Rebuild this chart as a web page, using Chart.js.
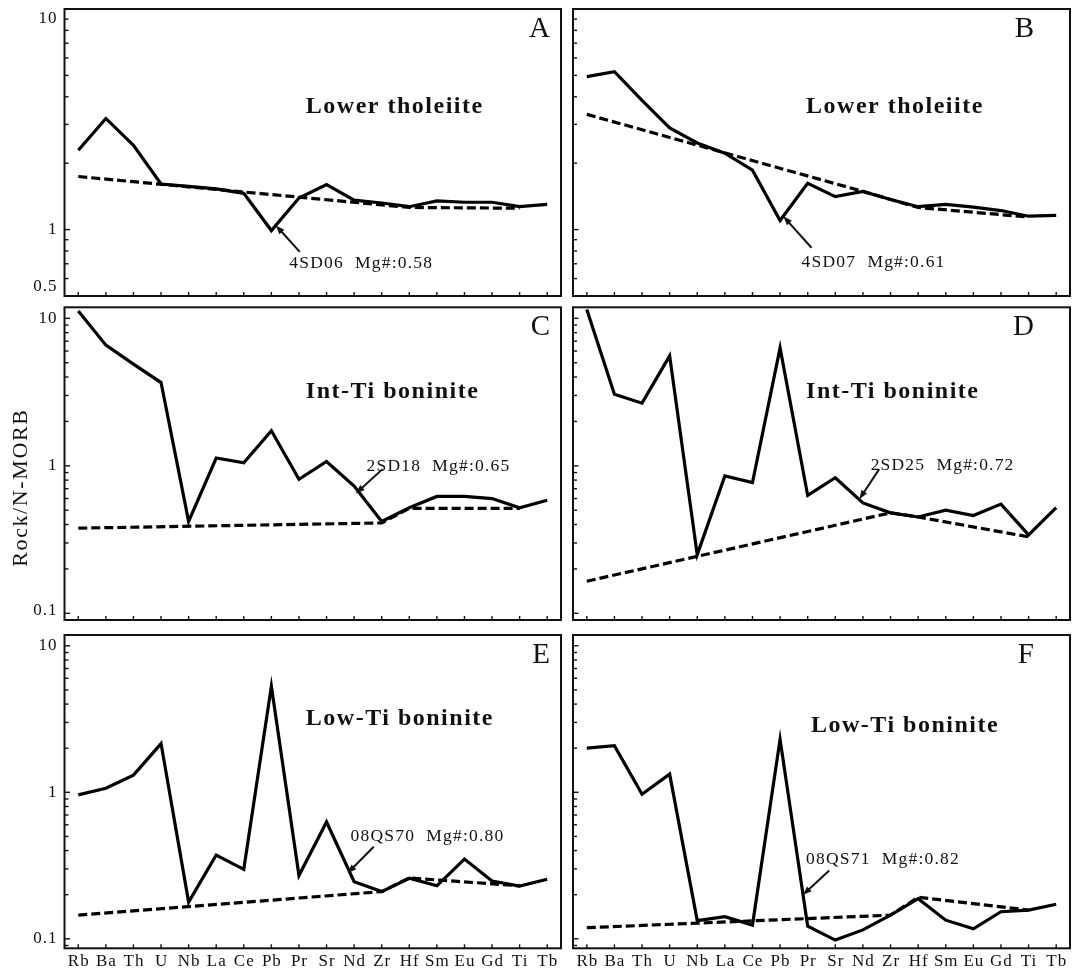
<!DOCTYPE html>
<html>
<head>
<meta charset="utf-8">
<title>Rock/N-MORB spider diagrams</title>
<script src="https://cdn.jsdelivr.net/npm/chart.js@4/dist/chart.umd.min.js"></script>
<style>
  html, body { margin: 0; padding: 0; background: #fff; }
  #fig { position: relative; width: 1073px; height: 971px; overflow: hidden; background: #fff; }
  #fig canvas { position: absolute; }
</style>
</head>
<body>
<div id="fig"></div>
<script>
// Element order along the x axis (N-MORB normalised)
const ELEMENTS = ['Rb','Ba','Th','U','Nb','La','Ce','Pb','Pr','Sr','Nd','Zr','Hf','Sm','Eu','Gd','Ti','Tb'];

// Sample patterns (Rock / N-MORB)
const sample4SD06 = [2.29, 3.19, 2.41, 1.61, 1.57, 1.53, 1.46, 0.99, 1.39, 1.60, 1.36, 1.32, 1.27, 1.35, 1.33, 1.33, 1.27, 1.30];
const sample4SD07 = [4.94, 5.20, 3.85, 2.89, 2.47, 2.22, 1.86, 1.10, 1.62, 1.41, 1.49, 1.37, 1.27, 1.30, 1.265, 1.22, 1.15, 1.16];
const sample2SD18 = [11.2, 6.58, 4.89, 3.67, 0.42, 1.13, 1.05, 1.73, 0.81, 1.07, 0.73, 0.42, 0.52, 0.62, 0.62, 0.60, 0.52, 0.585];
const sample2SD25 = [11.5, 3.06, 2.66, 5.57, 0.25, 0.855, 0.77, 6.3, 0.63, 0.83, 0.56, 0.48, 0.45, 0.50, 0.46, 0.55, 0.34, 0.52];
const sample08QS70 = [0.96, 1.065, 1.31, 2.15, 0.178, 0.373, 0.298, 5.3, 0.27, 0.627, 0.245, 0.21, 0.259, 0.23, 0.35, 0.248, 0.229, 0.255];
const sample08QS71 = [2.0, 2.08, 0.97, 1.33, 0.133, 0.1416, 0.124, 2.3, 0.122, 0.098, 0.115, 0.145, 0.188, 0.134, 0.117, 0.153, 0.157, 0.172];

// Dashed reference trends (nulls are bridged)
const trend4SD06 = [1.74, null, null, null, null, null, null, null, null, null, null, null, 1.26, null, null, null, 1.25, null];
const trend4SD07 = [3.33, null, null, null, null, null, null, null, null, null, 1.49, null, 1.26, null, null, null, 1.14, null];
const trend2SD18 = [0.378, null, null, null, null, null, null, null, null, null, null, 0.41, 0.515, null, null, null, 0.515, null];
const trend2SD25 = [0.165, null, null, null, null, null, null, null, null, null, null, 0.48, 0.45, null, null, null, 0.33, null];
const trend08QS70 = [0.145, null, null, null, null, null, null, null, null, null, null, 0.21, 0.26, null, null, null, 0.23, null];
const trend08QS71 = [0.119, null, null, null, null, null, null, null, null, null, null, 0.145, 0.192, null, null, null, 0.157, null];

// Axis ranges and labelled ticks per row
const rowRanges = [[0.5, 10], [0.0901, 11.88], [0.0861, 11.85]];
const rowTickLabels = [[0.5, 1, 10], [0.1, 1, 10], [0.1, 1, 10]];

// Group names and sample captions
const groupNames = ['Lower tholeiite', 'Int-Ti boninite', 'Low-Ti boninite'];
const sampleCaptions = ['4SD06  Mg#:0.58', '4SD07  Mg#:0.61', '2SD18  Mg#:0.65', '2SD25  Mg#:0.72', '08QS70  Mg#:0.80', '08QS71  Mg#:0.82'];
const panelLetters = ['A', 'B', 'C', 'D', 'E', 'F'];
const yTitle = 'Rock/N-MORB';

// Page geometry of the grid (canvas boxes and plot-area padding)
const colBoxes = [
  { left: 0,   width: 566, padL: 64.5, padR: 5, letterInset: 11 },
  { left: 566, width: 507, padL: 7,    padR: 3, letterInset: 36 }
];
const rowBoxes = [
  { top: 0,   height: 302, padT: 9,   padB: 6 },
  { top: 302, height: 325, padT: 5.3, padB: 7 },
  { top: 627, height: 344, padT: 8,   padB: 22.7 }
];

// Panel-specific placement of titles and annotation arrows, in data units [category index, value]
const panelNotes = [
  { title: [8.25, 3.59], text: [7.65, 0.703], tail: [8.03, 0.793], tip: [7.16, 1.045] },
  { title: [7.94, 3.59], text: [7.78, 0.708], tail: [8.14, 0.827], tip: [7.12, 1.148] },
  { title: [8.25, 3.17], text: [10.45, 0.985], tail: [11.03, 0.95], tip: [10.06, 0.649] },
  { title: [7.94, 3.17], text: [10.28, 1.01], tail: [10.59, 0.95], tip: [9.87, 0.594] },
  { title: [8.25, 3.15], text: [9.87, 0.503], tail: [10.71, 0.425], tip: [9.76, 0.28] },
  { title: [8.12, 2.83], text: [7.94, 0.349], tail: [8.78, 0.292], tip: [7.82, 0.199] }
];

const samples = [sample4SD06, sample4SD07, sample2SD18, sample2SD25, sample08QS70, sample08QS71];
const trends = [trend4SD06, trend4SD07, trend2SD18, trend2SD25, trend08QS70, trend08QS71];

const SERIF = '"Liberation Serif", "DejaVu Serif", serif';

function drawArrow(ctx, x1, y1, x2, y2) {
  const ang = Math.atan2(y2 - y1, x2 - x1);
  const head = 9, half = 3.3;
  const c = Math.cos(ang), s = Math.sin(ang);
  ctx.lineWidth = 2;
  ctx.beginPath();
  ctx.moveTo(x1, y1);
  ctx.lineTo(x2 - c * head * 0.7, y2 - s * head * 0.7);
  ctx.stroke();
  ctx.beginPath();
  ctx.moveTo(x2, y2);
  ctx.lineTo(x2 - head * c + half * s, y2 - head * s - half * c);
  ctx.lineTo(x2 - head * c - half * s, y2 - head * s + half * c);
  ctx.closePath();
  ctx.fill();
}

function makeDecor(p) {
  return {
    id: 'decor' + p.letter,
    beforeDraw(chart) {
      const ctx = chart.ctx;
      ctx.save();
      ctx.fillStyle = '#fff';
      ctx.fillRect(0, 0, chart.width, chart.height);
      ctx.restore();
    },
    afterDatasetsDraw(chart) {
      const { ctx, chartArea: a, scales: { x, y } } = chart;
      const [ymin, ymax] = p.range;
      ctx.save();
      ctx.strokeStyle = '#111';
      ctx.fillStyle = '#111';

      // inward ticks on the value axis
      ctx.lineWidth = 1.4;
      for (let n = Math.floor(Math.log10(ymin)); n <= Math.ceil(Math.log10(ymax)); n++) {
        for (let k = 1; k <= 9; k++) {
          const v = k * Math.pow(10, n);
          if (v <= ymin * 1.001 || v >= ymax * 0.999) continue;
          const py = y.getPixelForValue(v);
          const len = k === 1 ? 5.5 : 4;
          ctx.beginPath();
          ctx.moveTo(a.left, py);
          ctx.lineTo(a.left + len, py);
          ctx.stroke();
        }
      }
      // inward ticks on the category axis
      ELEMENTS.forEach((_, i) => {
        const px = x.getPixelForValue(i);
        ctx.beginPath();
        ctx.moveTo(px, a.bottom);
        ctx.lineTo(px, a.bottom - 4);
        ctx.stroke();
      });

      // frame
      ctx.lineWidth = 2;
      ctx.strokeRect(a.left, a.top, a.right - a.left, a.bottom - a.top);

      // value labels (left column)
      if (p.showY) {
        ctx.font = '17px ' + SERIF;
        ctx.letterSpacing = '1px';
        ctx.textAlign = 'right';
        ctx.textBaseline = 'middle';
        p.tickLabels.forEach(v => {
          let py = y.getPixelForValue(v);
          py = Math.min(Math.max(py, a.top + 9.5), a.bottom - 9.5);
          ctx.fillText(String(v), a.left - 7, py);
        });
      }
      // element labels (bottom row)
      if (p.showX) {
        ctx.font = '17px ' + SERIF;
        ctx.letterSpacing = '1px';
        ctx.textAlign = 'center';
        ctx.textBaseline = 'middle';
        ELEMENTS.forEach((el, i) => {
          ctx.fillText(el, x.getPixelForValue(i) + 0.5, a.bottom + 13);
        });
      }
      // axis title
      if (p.yTitle) {
        ctx.save();
        ctx.translate(a.left - 43, (a.top + a.bottom) / 2 + 24);
        ctx.rotate(-Math.PI / 2);
        ctx.font = '22px ' + SERIF;
        ctx.letterSpacing = '1.6px';
        ctx.textAlign = 'center';
        ctx.textBaseline = 'middle';
        ctx.fillText(p.yTitle, 0, 0);
        ctx.restore();
      }

      // panel letter
      ctx.font = '29px ' + SERIF;
      ctx.letterSpacing = '0px';
      ctx.textAlign = 'right';
      ctx.textBaseline = 'middle';
      ctx.fillText(p.letter, a.right - p.letterInset, a.top + 20);

      // group name
      ctx.font = 'bold 24px ' + SERIF;
      ctx.letterSpacing = '1.5px';
      ctx.textAlign = 'left';
      ctx.textBaseline = 'middle';
      ctx.fillText(p.group, x.getPixelForValue(p.note.title[0]), y.getPixelForValue(p.note.title[1]));

      // sample caption and arrow
      ctx.font = '17.5px ' + SERIF;
      ctx.letterSpacing = '1.2px';
      ctx.fillText(p.caption, x.getPixelForValue(p.note.text[0]), y.getPixelForValue(p.note.text[1]));
      drawArrow(ctx,
        x.getPixelForValue(p.note.tail[0]), y.getPixelForValue(p.note.tail[1]),
        x.getPixelForValue(p.note.tip[0]), y.getPixelForValue(p.note.tip[1]));
      ctx.restore();
    }
  };
}

const fig = document.getElementById('fig');
for (let r = 0; r < 3; r++) {
  for (let c = 0; c < 2; c++) {
    const idx = r * 2 + c;
    const col = colBoxes[c], row = rowBoxes[r];
    const canvas = document.createElement('canvas');
    canvas.width = col.width;
    canvas.height = row.height;
    canvas.style.left = col.left + 'px';
    canvas.style.top = row.top + 'px';
    canvas.style.width = col.width + 'px';
    canvas.style.height = row.height + 'px';
    fig.appendChild(canvas);

    const spec = {
      letter: panelLetters[idx],
      group: groupNames[r],
      caption: sampleCaptions[idx],
      note: panelNotes[idx],
      range: rowRanges[r],
      tickLabels: rowTickLabels[r],
      showY: c === 0,
      showX: r === 2,
      yTitle: (r === 1 && c === 0) ? yTitle : null,
      letterInset: col.letterInset
    };

    new Chart(canvas, {
      type: 'line',
      data: {
        labels: ELEMENTS,
        datasets: [
          {
            label: sampleCaptions[idx],
            data: samples[idx],
            borderColor: '#000',
            borderWidth: 3.2,
            borderJoinStyle: 'miter',
            pointRadius: 0,
            tension: 0,
            fill: false
          },
          {
            label: 'trend',
            data: trends[idx],
            borderColor: '#000',
            borderWidth: 3.2,
            borderDash: [9, 4],
            borderCapStyle: 'butt',
            pointRadius: 0,
            spanGaps: true,
            tension: 0,
            fill: false
          }
        ]
      },
      options: {
        responsive: false,
        animation: false,
        devicePixelRatio: 1,
        events: [],
        layout: { padding: { left: col.padL, right: col.padR, top: row.padT, bottom: row.padB } },
        plugins: { legend: { display: false }, tooltip: { enabled: false }, title: { display: false } },
        scales: {
          x: { type: 'category', offset: true, display: false },
          y: { type: 'logarithmic', min: rowRanges[r][0], max: rowRanges[r][1], display: false }
        }
      },
      plugins: [makeDecor(spec)]
    });
  }
}
</script>
</body>
</html>
